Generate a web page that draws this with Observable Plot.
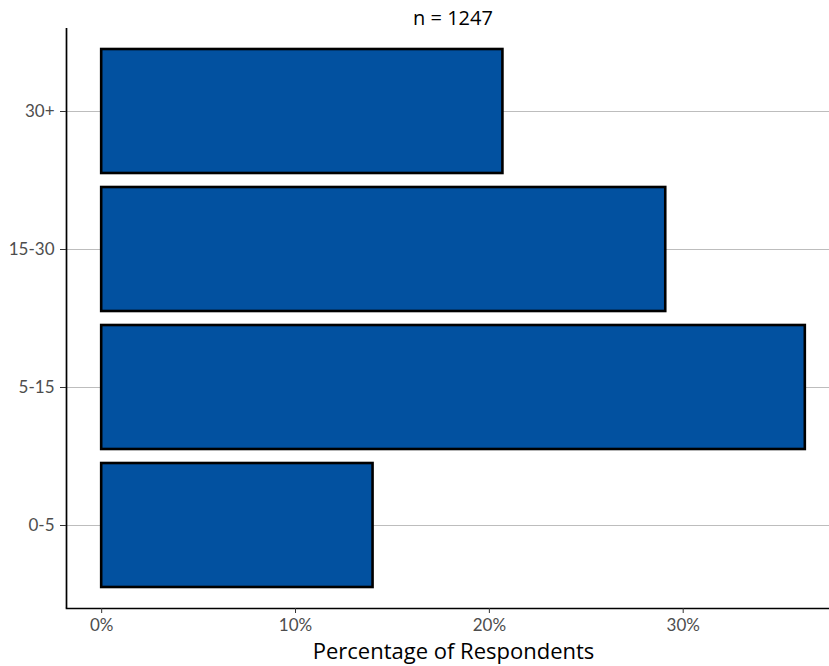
<!DOCTYPE html>
<html>
<head>
<meta charset="utf-8">
<script src="https://cdn.jsdelivr.net/npm/d3@7"></script>
<script src="https://cdn.jsdelivr.net/npm/@observablehq/plot@0.6"></script>
<style>
  html, body { margin: 0; padding: 0; background: #ffffff; }
  #wrap { width: 829px; height: 666px; overflow: hidden; position: relative; }
  #title {
    width: 829px; height: 28px; box-sizing: border-box;
    padding-left: 77px; padding-top: 8px;
    font-family: "Open Sans", sans-serif; font-size: 20px; line-height: 20px;
    text-align: center; color: #000; white-space: nowrap;
  }
  #chart svg { display: block; overflow: visible; }
</style>
</head>
<body>
<div id="wrap">
  <div id="title"></div>
  <div id="chart"></div>
</div>
<script>
// ---- data ----
const categories = ["0-5", "5-15", "15-30", "30+"];
const percentages = [14.0, 36.3, 29.1, 20.7];
const xTicks = [0, 10, 20, 30];
const xTickLabels = ["0%", "10%", "20%", "30%"];
const titleText = "n = 1247";
const xLabel = "Percentage of Respondents";

const data = categories.map((c, i) => ({category: c, pct: percentages[i]}));

document.getElementById("title").textContent = titleText;

const xMax = d3.max(percentages);
const pad = xMax * 0.05;
const xDomain = [-pad, xMax + pad];

const chart = Plot.plot({
  width: 829,
  height: 638,
  marginTop: 0,
  marginBottom: 58,
  marginLeft: 66,
  marginRight: -11,
  style: {fontFamily: "Lato, sans-serif", fontSize: "17px", color: "#4d4d4d", background: "white"},
  x: {domain: xDomain},
  y: {domain: categories.slice().reverse(), paddingInner: 0.1, paddingOuter: 0.15},
  marks: [
    Plot.gridY({stroke: "#bdbdbd", strokeOpacity: 1, strokeWidth: 1.1}),
    Plot.barX(data, {x: "pct", y: "category", fill: "#0251a0", stroke: "#000", strokeWidth: 2.6}),
    Plot.ruleX([xDomain[0]], {stroke: "#000", strokeWidth: 1.7}),
    Plot.frame({anchor: "bottom", stroke: "#000", strokeWidth: 1.7}),
    Plot.axisY({tickSize: 6, tickPadding: 6, fontSize: 17, fontFamily: "Lato, sans-serif", label: null, stroke: "#333"}),
    Plot.axisX({ticks: xTicks, tickFormat: (d) => xTickLabels[xTicks.indexOf(d)], tickSize: 5, tickPadding: 5, fontSize: 17, fontFamily: "Lato, sans-serif", label: null, stroke: "#333"}),
    Plot.text([xLabel], {text: (d) => d, frameAnchor: "bottom", dy: 50, fontSize: 22, fontFamily: "Open Sans, sans-serif", fill: "#000"})
  ]
});
document.getElementById("chart").appendChild(chart);
</script>
</body>
</html>
